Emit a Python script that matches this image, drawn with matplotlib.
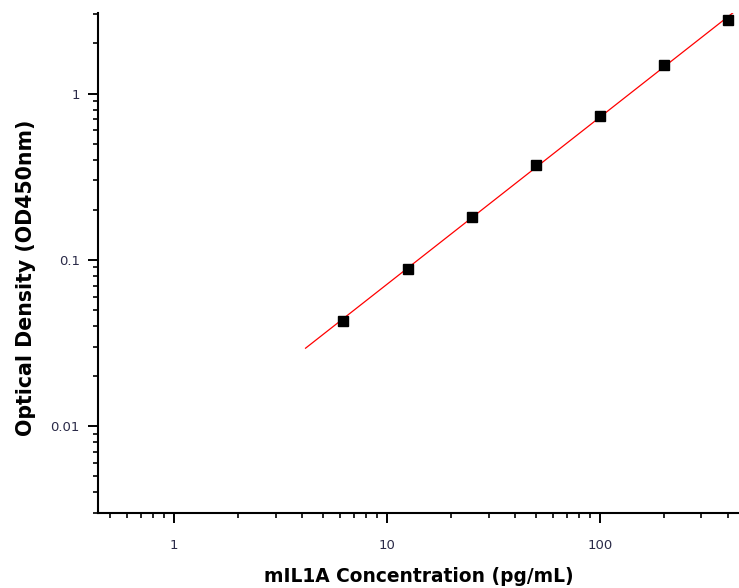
import matplotlib
matplotlib.use("Agg")
import matplotlib.pyplot as plt
import numpy as np
from matplotlib.ticker import LogLocator, FixedLocator, FixedFormatter, NullFormatter

plt.rcParams['font.family'] = ['DejaVu Sans']

# ======================== data ==============================
conc = [6.25, 12.5, 25, 50, 100, 200, 400]          # pg/mL
od = [0.043, 0.088, 0.182, 0.373, 0.736, 1.475, 2.75]  # OD450nm
fit_range = [4.15, 450]

x_ticks = [1, 10, 100]
x_tick_labels = ['1', '10', '100']
y_ticks = [0.01, 0.1, 1]
y_tick_labels = ['0.01', '0.1', '1']

# ======================== fit in log-log ====================
k, b = np.polyfit(np.log10(conc), np.log10(od), 1)
fit_x = np.logspace(np.log10(fit_range[0]), np.log10(fit_range[1]), 100)
fit_y = 10 ** (k * np.log10(fit_x) + b)

# ======================== plot ==============================
fig = plt.figure(figsize=(7.39, 5.88), dpi=100)
ax = fig.add_axes([98 / 739, 1 - 513 / 588, 1 - 98 / 739, 500 / 588])

ax.plot(fit_x, fit_y, color='red', lw=0.9, zorder=2)
ax.plot(conc, od, 's', color='black', ms=6.5, zorder=3)

ax.set_xscale('log')
ax.set_yscale('log')
ax.set_xlim(0.44, 450)
ax.set_ylim(0.003, 3.05)

ax.xaxis.set_major_locator(FixedLocator(x_ticks))
ax.xaxis.set_major_formatter(FixedFormatter(x_tick_labels))
ax.yaxis.set_major_locator(FixedLocator(y_ticks))
ax.yaxis.set_major_formatter(FixedFormatter(y_tick_labels))
ax.xaxis.set_minor_locator(LogLocator(base=10, subs=np.arange(2, 10)))
ax.yaxis.set_minor_locator(LogLocator(base=10, subs=np.arange(2, 10)))
ax.xaxis.set_minor_formatter(NullFormatter())
ax.yaxis.set_minor_formatter(NullFormatter())

for s in ['top', 'right']:
    ax.spines[s].set_visible(False)
for s in ['left', 'bottom']:
    ax.spines[s].set_linewidth(1.5)

ax.tick_params(which='major', direction='out', length=7, width=1.4,
               labelsize=9.5, labelcolor='#2a2a48')
ax.tick_params(which='minor', direction='out', length=3.8, width=1.2)
ax.tick_params(axis='x', which='major', pad=12)
ax.tick_params(axis='y', which='major', pad=6)

ax.set_xlabel('mIL1A Concentration (pg/mL)', fontsize=13.4, fontweight='bold')
ax.set_ylabel('Optical Density (OD450nm)', fontsize=14.8, fontweight='bold')
ax.xaxis.set_label_coords((419 - 98) / 641, -0.108)
ax.yaxis.set_label_coords(-0.097, (513 - 278) / 500)

fig.savefig('out.png', dpi=100)
